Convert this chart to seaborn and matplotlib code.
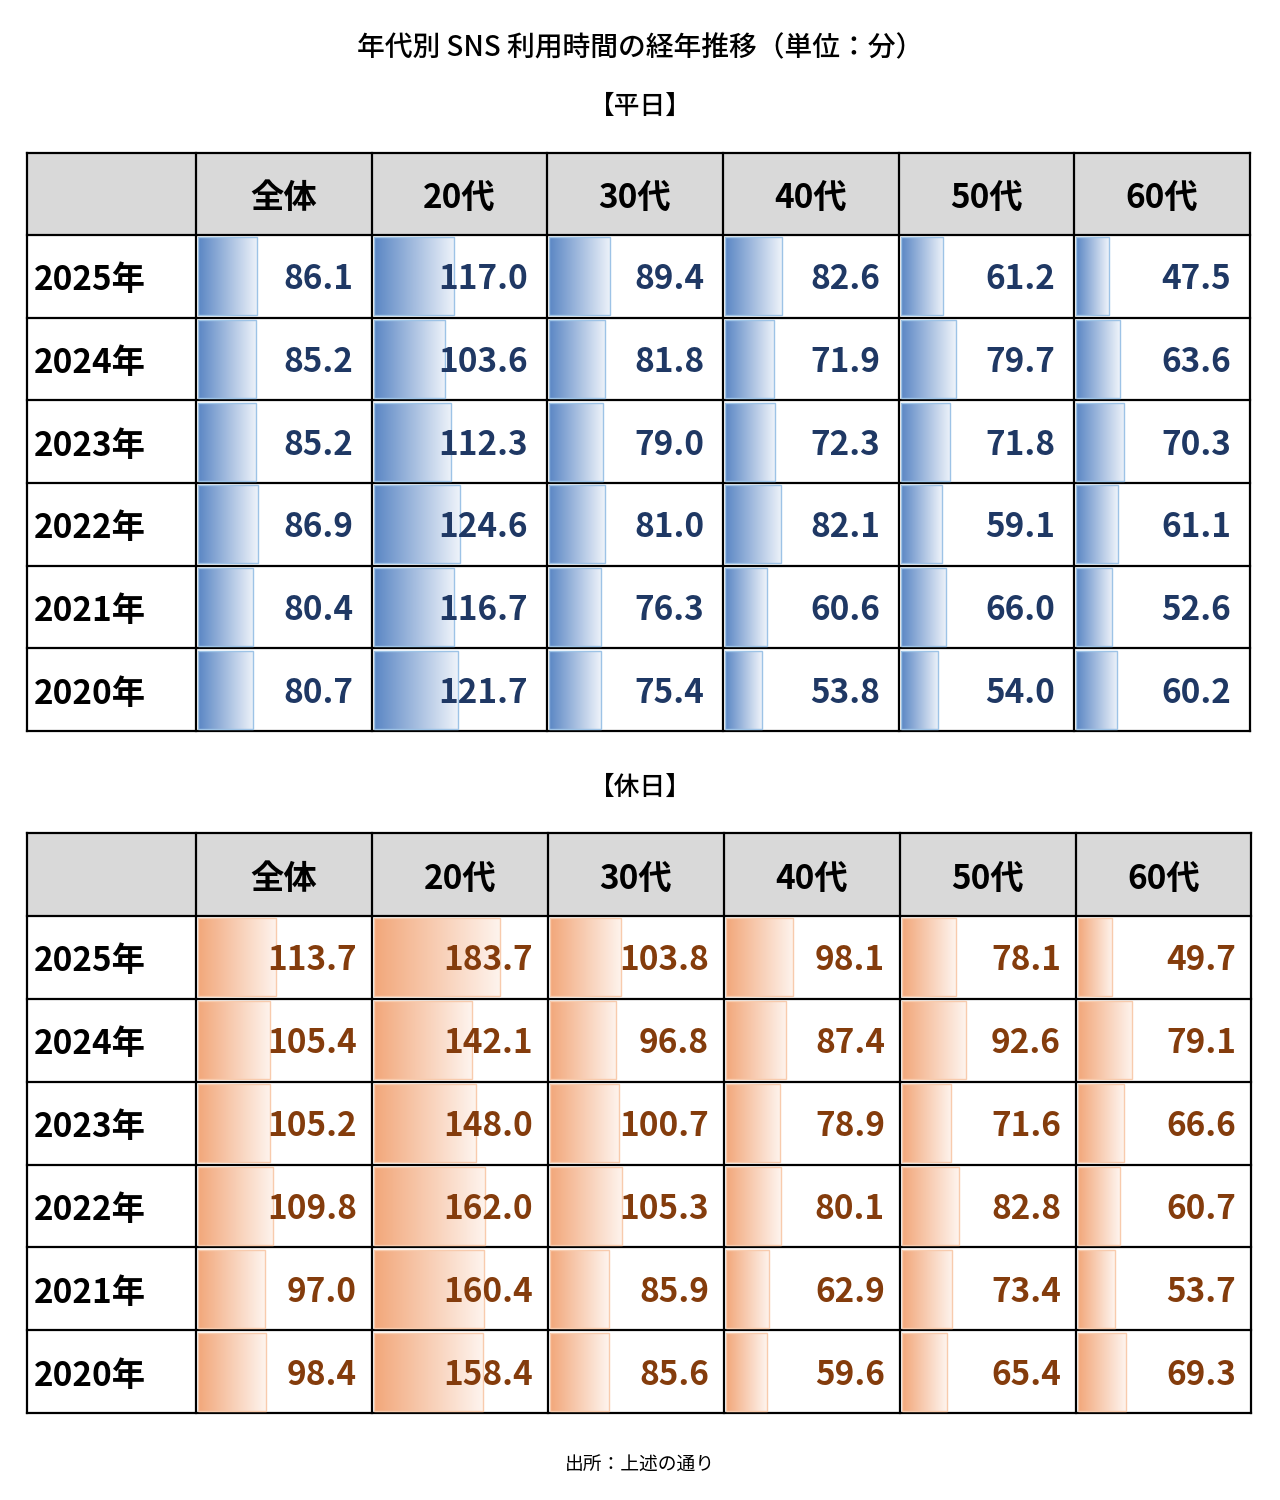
import numpy as np
import matplotlib.pyplot as plt
from matplotlib.colors import LinearSegmentedColormap
from matplotlib.patches import Rectangle
import seaborn as sns

# =========================
# DATA
# =========================

years = ["2025年", "2024年", "2023年", "2022年", "2021年", "2020年"]
groups = ["全体", "20代", "30代", "40代", "50代", "60代"]

# 平日
weekday_all = [86.1, 85.2, 85.2, 86.9, 80.4, 80.7]
weekday_20s = [117.0, 103.6, 112.3, 124.6, 116.7, 121.7]
weekday_30s = [89.4, 81.8, 79.0, 81.0, 76.3, 75.4]
weekday_40s = [82.6, 71.9, 72.3, 82.1, 60.6, 53.8]
weekday_50s = [61.2, 79.7, 71.8, 59.1, 66.0, 54.0]
weekday_60s = [47.5, 63.6, 70.3, 61.1, 52.6, 60.2]

# 休日
holiday_all = [113.7, 105.4, 105.2, 109.8, 97.0, 98.4]
holiday_20s = [183.7, 142.1, 148.0, 162.0, 160.4, 158.4]
holiday_30s = [103.8, 96.8, 100.7, 105.3, 85.9, 85.6]
holiday_40s = [98.1, 87.4, 78.9, 80.1, 62.9, 59.6]
holiday_50s = [78.1, 92.6, 71.6, 82.8, 73.4, 65.4]
holiday_60s = [49.7, 79.1, 66.6, 60.7, 53.7, 69.3]

weekday_cols = [weekday_all, weekday_20s, weekday_30s, weekday_40s, weekday_50s, weekday_60s]
holiday_cols = [holiday_all, holiday_20s, holiday_30s, holiday_40s, holiday_50s, holiday_60s]

# =========================
# STYLE / LAYOUT (pixels)
# =========================

sns.set_theme(style="white")
plt.rcParams['font.family'] = ['Noto Sans CJK JP', 'DejaVu Sans']

W, H = 1280, 1500
XMAX = 252          # value that would fill a whole cell
BAR_W_PX = 173

tables = [
    dict(label="【平日】", label_y=103, top=153, head=235, bottom=731,
         edges=[27, 196, 372, 547, 723, 899, 1074, 1250], cols=weekday_cols,
         dark="#5A86C4", light="#EEF3FA", edge="#9DC3E6", text="#1F3864", margin=19),
    dict(label="【休日】", label_y=784, top=833, head=916, bottom=1413,
         edges=[27, 196, 372, 548, 724, 900, 1076, 1251], cols=holiday_cols,
         dark="#F2A77A", light="#FEF4EE", edge="#F8CBAD", text="#843C0C", margin=15),
]

fig = plt.figure(figsize=(W / 100, H / 100), dpi=100)
bg = fig.add_axes([0, 0, 1, 1])
bg.set_xlim(0, W)
bg.set_ylim(H, 0)
bg.axis('off')

bg.text(W / 2, 45, "年代別 SNS 利用時間の経年推移（単位：分）", ha='center', va='center_baseline',
        fontsize=20, fontweight='medium', color='black')
bg.text(W / 2, 1463, "出所：上述の通り", ha='center', va='center_baseline', fontsize=13.5, color='black')

for t in tables:
    edges = t['edges']
    left, right = edges[0], edges[-1]
    row_h = (t['bottom'] - t['head']) / len(years)
    row_edges = [t['head'] + i * row_h for i in range(len(years) + 1)]

    bg.text(W / 2, t['label_y'], t['label'], ha='center', va='center_baseline',
            fontsize=18.5, fontweight='medium', color='black')

    # header band
    bg.add_patch(Rectangle((left, t['top']), right - left, t['head'] - t['top'],
                           facecolor="#D9D9D9", edgecolor='none', zorder=0))
    for j, g in enumerate(groups):
        cx = (edges[j + 1] + edges[j + 2]) / 2
        bg.text(cx, (t['top'] + t['head']) / 2 + 1, g, ha='center', va='center_baseline',
                fontsize=24, fontweight='bold', color='black')
    for i, y in enumerate(years):
        cy = (row_edges[i] + row_edges[i + 1]) / 2
        bg.text(left + 7, cy + 1, y, ha='left', va='center_baseline',
                fontsize=24, fontweight='bold', color='black')

    # grid
    for y in [t['top']] + row_edges:
        bg.plot([left, right], [y, y], color='black', lw=1.6, zorder=5, solid_capstyle='projecting')
    for x in edges:
        bg.plot([x, x], [t['top'], t['bottom']], color='black', lw=1.6, zorder=5, solid_capstyle='projecting')

    cmap = LinearSegmentedColormap.from_list("bar", [t['dark'], t['light']])
    grad = np.linspace(0, 1, 256).reshape(1, -1)

    # data bars, one axes per column
    for j, vals in enumerate(t['cols']):
        x0 = edges[j + 1] + 2
        ax = fig.add_axes([x0 / W, 1 - t['bottom'] / H, BAR_W_PX / W, (t['bottom'] - t['head']) / H])
        sns.barplot(x=vals, y=years, orient='h', color=t['dark'], width=0.94,
                    errorbar=None, ax=ax)
        for p in list(ax.patches):
            px, py = p.get_x(), p.get_y()
            pw, ph = p.get_width(), p.get_height()
            im = ax.imshow(grad, extent=[px, px + pw, py + ph, py], cmap=cmap,
                           aspect='auto', interpolation='bilinear', zorder=1)
            im.set_clip_path(p)
            p.set_facecolor('none')
            p.set_edgecolor(t['edge'])
            p.set_linewidth(1.0)
            p.set_zorder(2)
        cell_w = edges[j + 2] - edges[j + 1]
        text_x = (cell_w - 2 - t['margin']) * XMAX / BAR_W_PX
        for i, v in enumerate(vals):
            ax.text(text_x, i, f"{v:.1f}", ha='right', va='center_baseline',
                    fontsize=24, fontweight='bold', color=t['text'], zorder=3)
        ax.set_xlim(0, XMAX)
        ax.set_ylim(len(years) - 0.5, -0.5)
        ax.axis('off')

fig.savefig("out.png", dpi=100, facecolor='white')
